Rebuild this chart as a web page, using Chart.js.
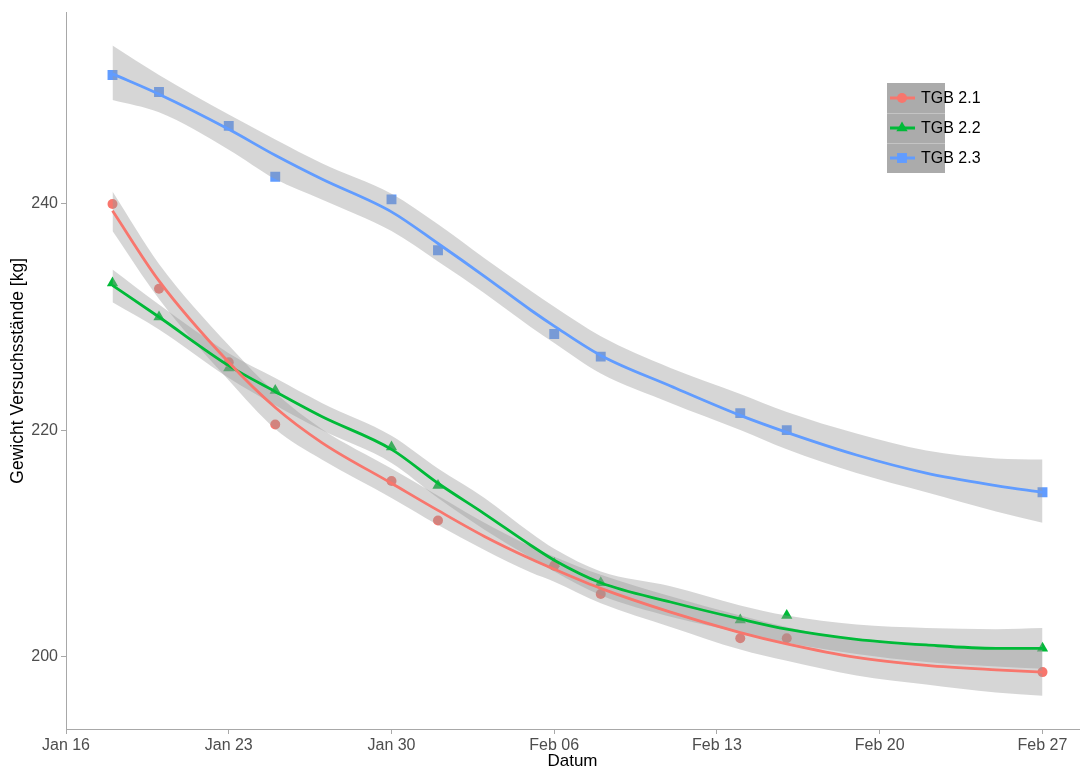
<!DOCTYPE html>
<html>
<head>
<meta charset="utf-8">
<title>Gewicht Versuchsstände</title>
<script src="https://cdn.jsdelivr.net/npm/chart.js@4.4.1/dist/chart.umd.min.js"></script>
<style>
  html, body { margin: 0; padding: 0; background: #fff; overflow: hidden; }
  #chart { display: block; }
</style>
</head>
<body>
<canvas id="chart" width="1086" height="770"></canvas>
<script>
(function () {
  'use strict';

  // x is "days since Jan 16"
  var TICK_DAYS = [0, 7, 14, 21, 28, 35, 42];
  var TICK_LABELS = ['Jan 16', 'Jan 23', 'Jan 30', 'Feb 06', 'Feb 13', 'Feb 20', 'Feb 27'];
  var Y_TICKS = [200, 220, 240];

  var SERIES_LABELS = ['TGB 2.1', 'TGB 2.2', 'TGB 2.3'];

  // measured points
  var OBS_DAYS = [2, 4, 7, 9, 14, 16, 21, 23, 29, 31, 42];
  var TGB21_OBS = [240.0, 232.5, 226.0, 220.5, 215.5, 212.0, 208.0, 205.5, 201.6, 201.6, 198.6];
  var TGB22_OBS = [233.0, 230.0, 225.5, 223.5, 218.5, 215.1, 208.2, 206.5, 203.2, 203.6, 200.7];
  var TGB23_OBS = [251.4, 249.9, 246.9, 242.4, 240.4, 235.9, 228.5, 226.5, 221.5, 220.0, 214.5];

  // smoothed fit + confidence band
  var FIT_DAYS = [2, 4, 7, 9, 11, 14, 16, 18, 20, 21, 23, 26, 29, 31, 34, 37, 40, 42];

  var TGB21_FIT = [239.4, 233.2, 226.0, 222.0, 218.9, 215.3, 212.9, 210.6, 208.6, 207.7, 206.0, 203.9, 202.1, 201.1, 199.9, 199.2, 198.8, 198.6];
  var TGB21_HI  = [241.1, 234.7, 227.5, 223.3, 220.1, 216.6, 214.2, 211.8, 209.7, 208.8, 207.2, 205.3, 203.6, 202.6, 201.4, 200.9, 200.7, 200.6];
  var TGB21_LO  = [237.6, 231.6, 224.4, 220.1, 217.4, 214.0, 211.6, 209.4, 207.4, 206.6, 204.7, 202.6, 200.6, 199.6, 198.3, 197.5, 196.8, 196.5];

  var TGB22_FIT = [232.8, 230.0, 225.7, 223.4, 221.2, 218.3, 215.3, 212.6, 209.8, 208.5, 206.5, 204.8, 203.3, 202.4, 201.5, 201.0, 200.7, 200.7];
  var TGB22_HI  = [234.2, 231.1, 226.8, 224.6, 222.4, 219.5, 216.6, 214.0, 210.9, 209.5, 207.5, 206.2, 204.5, 203.6, 202.8, 202.5, 202.4, 202.5];
  var TGB22_LO  = [231.3, 228.9, 224.6, 222.2, 220.0, 217.1, 214.0, 211.2, 208.7, 207.5, 205.4, 203.5, 202.1, 201.2, 200.2, 199.5, 199.1, 198.9];

  var TGB23_FIT = [251.5, 249.7, 246.6, 244.3, 242.2, 239.3, 236.5, 233.6, 230.6, 229.2, 226.6, 223.9, 221.3, 219.8, 217.8, 216.2, 215.1, 214.5];
  var TGB23_HI  = [254.0, 251.4, 247.9, 245.7, 243.6, 240.9, 238.2, 235.2, 232.3, 230.9, 228.3, 225.5, 223.2, 221.6, 219.7, 218.2, 217.5, 217.4];
  var TGB23_LO  = [249.2, 248.1, 244.8, 242.2, 240.4, 237.6, 234.9, 232.1, 229.1, 227.7, 225.0, 222.4, 220.0, 218.3, 216.2, 214.5, 212.8, 211.8];

  var COLORS = ['#F8766D', '#00BA38', '#619CFF'];
  var STYLES = ['circle', 'triangle', 'rect'];
  var RADII = [5, 6.5, 7];
  var BAND = 'rgba(153,153,153,0.4)';
  var FONT = '"Liberation Sans", Arial, Helvetica, sans-serif';

  function xy(xs, ys) {
    return xs.map(function (x, i) { return { x: x, y: ys[i] }; });
  }

  var series = [
    { obs: TGB21_OBS, fit: TGB21_FIT, hi: TGB21_HI, lo: TGB21_LO },
    { obs: TGB22_OBS, fit: TGB22_FIT, hi: TGB22_HI, lo: TGB22_LO },
    { obs: TGB23_OBS, fit: TGB23_FIT, hi: TGB23_HI, lo: TGB23_LO }
  ];

  var datasets = [];
  series.forEach(function (s, i) {
    // points (drawn first, the band sits on top of them)
    datasets.push({
      label: SERIES_LABELS[i] + ' Messwerte',
      data: xy(OBS_DAYS, s.obs),
      showLine: false,
      pointStyle: STYLES[i],
      pointRadius: RADII[i],
      pointBackgroundColor: COLORS[i],
      pointBorderWidth: 0,
      order: 3
    });
    // band lower edge
    datasets.push({
      label: SERIES_LABELS[i] + ' lo',
      data: xy(FIT_DAYS, s.lo),
      borderWidth: 0,
      pointRadius: 0,
      cubicInterpolationMode: 'monotone',
      fill: false,
      order: 2
    });
    // band upper edge, filled down to the lower edge
    datasets.push({
      label: SERIES_LABELS[i] + ' hi',
      data: xy(FIT_DAYS, s.hi),
      borderWidth: 0,
      pointRadius: 0,
      cubicInterpolationMode: 'monotone',
      backgroundColor: BAND,
      fill: '-1',
      order: 2
    });
    // fitted line
    datasets.push({
      label: SERIES_LABELS[i],
      data: xy(FIT_DAYS, s.fit),
      borderColor: COLORS[i],
      borderWidth: 2.8,
      pointRadius: 0,
      cubicInterpolationMode: 'monotone',
      fill: false,
      order: 1
    });
  });

  // ggplot style legend box in the upper right of the panel
  var legendBox = {
    id: 'legendBox',
    afterDraw: function (chart) {
      var ctx = chart.ctx;
      var x0 = 887, y0 = 83, w = 58, rowH = 30;
      ctx.save();
      ctx.fillStyle = '#ABABAB';
      ctx.fillRect(x0, y0, w, rowH * 3);
      ctx.strokeStyle = '#C4C4C4';
      ctx.lineWidth = 1;
      for (var k = 1; k < 3; k++) {
        ctx.beginPath();
        ctx.moveTo(x0, y0 + rowH * k + 0.5);
        ctx.lineTo(x0 + w, y0 + rowH * k + 0.5);
        ctx.stroke();
      }
      SERIES_LABELS.forEach(function (lab, i) {
        var cy = y0 + rowH * i + rowH / 2;
        ctx.strokeStyle = COLORS[i];
        ctx.lineWidth = 3;
        ctx.beginPath();
        ctx.moveTo(x0 + 3, cy);
        ctx.lineTo(x0 + 28, cy);
        ctx.stroke();
        ctx.fillStyle = COLORS[i];
        Chart.helpers.drawPoint(ctx, {
          pointStyle: STYLES[i], radius: RADII[i], rotation: 0, borderWidth: 0
        }, x0 + 15, cy);
        ctx.fillStyle = '#000';
        ctx.font = '16px ' + FONT;
        ctx.textBaseline = 'middle';
        ctx.textAlign = 'left';
        ctx.fillText(lab, x0 + 34, cy + 1);
      });
      ctx.restore();
    }
  };

  var axisColor = '#A8A8A8';

  new Chart(document.getElementById('chart').getContext('2d'), {
    type: 'line',
    data: { datasets: datasets },
    plugins: [legendBox],
    options: {
      responsive: false,
      animation: false,
      layout: { padding: { top: 10, right: 1, left: 0, bottom: 0 } },
      plugins: {
        legend: { display: false },
        tooltip: { enabled: false }
      },
      scales: {
        x: {
          type: 'linear',
          min: 0,
          max: 43.57,
          afterBuildTicks: function (s) { s.ticks = TICK_DAYS.map(function (v) { return { value: v }; }); },
          afterFit: function (s) { s.height = 41; },
          ticks: {
            autoSkip: false,
            maxRotation: 0,
            padding: 2,
            color: '#4D4D4D',
            font: { family: FONT, size: 16 },
            callback: function (v) { return TICK_LABELS[TICK_DAYS.indexOf(v)]; }
          },
          grid: { display: true, drawOnChartArea: false, drawTicks: true, tickLength: 5, color: axisColor },
          border: { display: true, color: axisColor, width: 1 },
          title: {
            display: true,
            text: 'Datum',
            color: '#000',
            font: { family: FONT, size: 17 },
            padding: { top: 0, bottom: -2 }
          }
        },
        y: {
          type: 'linear',
          min: 193.57,
          max: 256.92,
          afterBuildTicks: function (s) { s.ticks = Y_TICKS.map(function (v) { return { value: v }; }); },
          afterFit: function (s) { s.width = 66; },
          ticks: {
            padding: 3,
            color: '#4D4D4D',
            font: { family: FONT, size: 16 }
          },
          grid: { display: true, drawOnChartArea: false, drawTicks: true, tickLength: 5, color: axisColor },
          border: { display: true, color: axisColor, width: 1 },
          title: {
            display: true,
            text: 'Gewicht Versuchsstände [kg]',
            color: '#000',
            font: { family: FONT, size: 17.5 },
            padding: { top: 8, bottom: 0 }
          }
        }
      }
    }
  });
})();
</script>
</body>
</html>
